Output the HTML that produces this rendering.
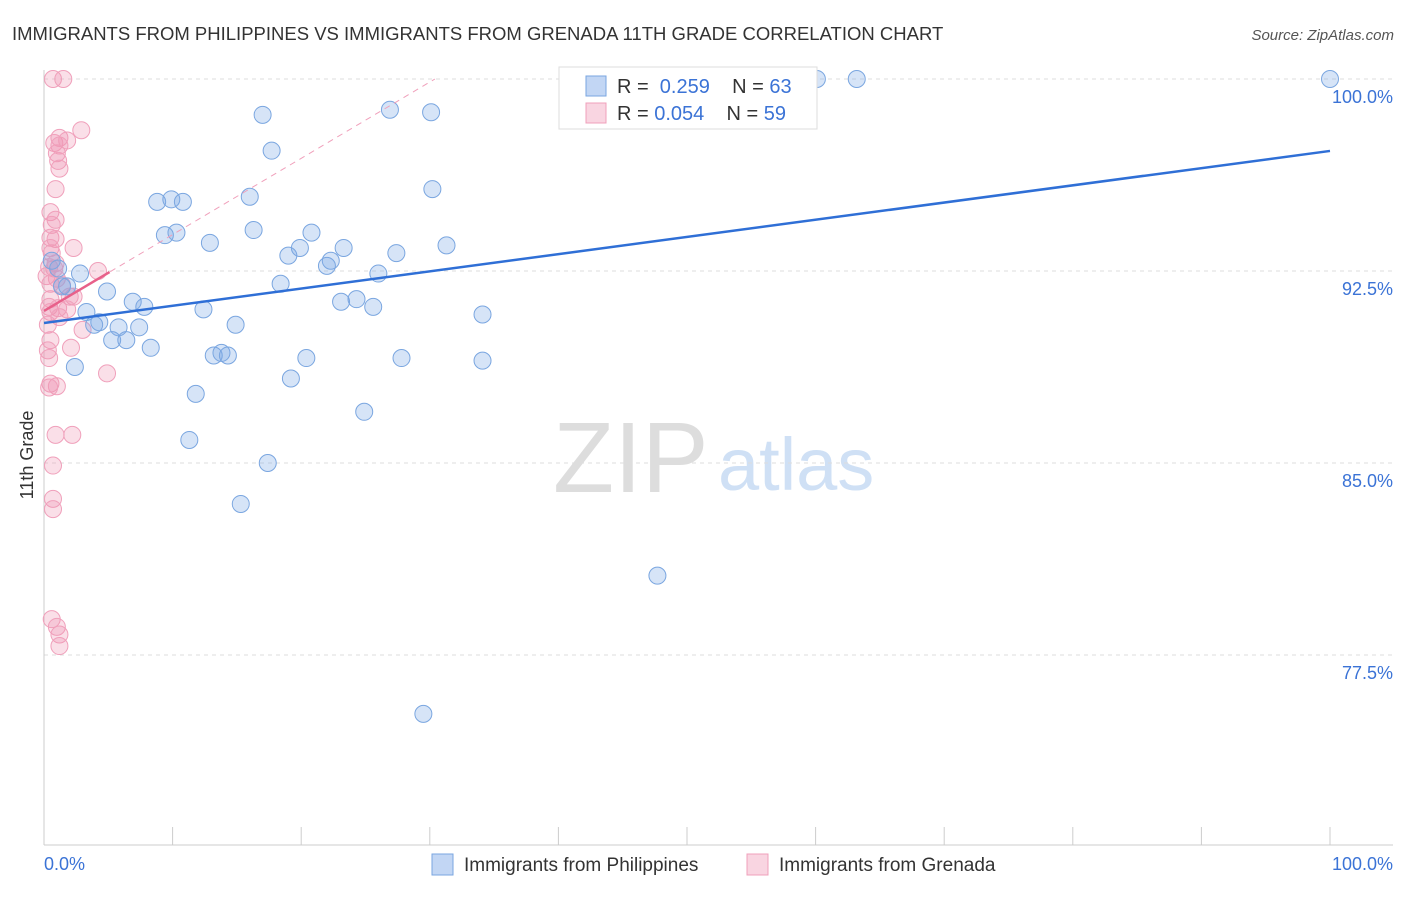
<!DOCTYPE html>
<html><head><meta charset="utf-8"><style>
body{margin:0;background:#fff;font-family:"Liberation Sans",sans-serif;}
svg text{font-family:"Liberation Sans",sans-serif;}
</style></head><body>
<svg id="chart" width="1406" height="892" xmlns="http://www.w3.org/2000/svg">
<text x="12" y="40" font-size="18.5" fill="#333">IMMIGRANTS FROM PHILIPPINES VS IMMIGRANTS FROM GRENADA 11TH GRADE CORRELATION CHART</text>
<text x="1394" y="40" font-size="15" fill="#555" font-style="italic" text-anchor="end">Source: ZipAtlas.com</text>
<text x="33" y="455" font-size="18" fill="#333" text-anchor="middle" transform="rotate(-90 33 455)">11th Grade</text>
<g>
<text x="553" y="492" font-size="100" fill="#ddd" font-family="Liberation Serif,serif">ZIP</text>
<text x="718" y="490" font-size="74" fill="#cfe0f5">atlas</text>
</g>
<g id="grid"></g><g id="axes"></g><g id="pts"></g><g id="lines"></g>
<g>
<rect x="559" y="67" width="258" height="62" fill="#fff" stroke="#ddd"/>
<rect x="586" y="76" width="20" height="20" fill="rgba(120,165,230,0.45)" stroke="#7aa6e0"/>
<rect x="586" y="103" width="20" height="20" fill="rgba(240,150,180,0.4)" stroke="#f0a0bb"/>
<text x="617" y="93" font-size="20" fill="#333">R = <tspan fill="#3b73d6">&#160;0.259</tspan>&#160;&#160;&#160; N = <tspan fill="#3b73d6">63</tspan></text>
<text x="617" y="120" font-size="20" fill="#333">R = <tspan fill="#3b73d6">0.054</tspan>&#160;&#160;&#160; N = <tspan fill="#3b73d6">59</tspan></text>
</g>
<g>
<rect x="432" y="854" width="21" height="21" fill="rgba(120,165,230,0.45)" stroke="#7aa6e0"/>
<text x="464" y="871" font-size="19" fill="#333">Immigrants from Philippines</text>
<rect x="747" y="854" width="21" height="21" fill="rgba(240,150,180,0.4)" stroke="#f0a0bb"/>
<text x="779" y="871" font-size="19" fill="#333">Immigrants from Grenada</text>
</g>
</svg>
<script>
const yTicks=[100,92.5,85,77.5];
const yTickLabels=["100.0%","92.5%","85.0%","77.5%"];
const xTickLabels=["0.0%","100.0%"];
const blueX=[60.1,63.2,100,26.9,17.0,30.1,17.7,30.2,16.0,8.8,9.9,10.8,16.3,20.8,9.4,10.3,12.9,31.3,19.9,23.3,27.4,19.0,22.3,22.0,0.6,1.1,2.8,26.0,18.4,1.8,1.4,4.9,6.9,7.8,23.1,24.3,25.6,12.4,3.3,34.1,4.3,3.9,5.8,7.4,14.9,5.3,6.4,8.3,13.2,13.8,14.3,20.4,27.8,34.1,2.4,19.2,11.8,24.9,11.3,17.4,15.3,47.7,29.5];
const blueY=[100,100,100,98.8,98.6,98.7,97.2,95.7,95.4,95.2,95.3,95.2,94.1,94.0,93.9,94.0,93.6,93.5,93.4,93.4,93.2,93.1,92.9,92.7,92.9,92.6,92.4,92.4,92.0,91.9,91.9,91.7,91.3,91.1,91.3,91.4,91.1,91.0,90.9,90.8,90.5,90.4,90.3,90.3,90.4,89.8,89.8,89.5,89.2,89.3,89.2,89.1,89.1,89.0,88.75,88.3,87.7,87.0,85.9,85.0,83.4,80.6,75.2];
const pinkX=[0.7,1.5,2.9,1.2,0.8,1.8,1.2,1.0,1.1,1.2,0.9,0.5,0.9,0.6,0.5,0.9,2.3,0.5,0.6,0.9,0.4,4.2,0.8,0.2,1.0,0.5,1.4,2.3,2.0,0.5,0.4,1.1,0.5,1.8,1.2,0.3,3.0,0.5,2.1,0.3,0.4,4.9,0.5,1.0,0.4,0.9,2.2,0.7,0.7,0.7,0.6,1.0,1.2,1.2];
const pinkY=[100,100,98.0,97.7,97.5,97.6,97.4,97.1,96.8,96.5,95.7,94.8,94.5,94.3,93.8,93.75,93.4,93.4,93.2,92.8,92.65,92.5,92.6,92.3,92.2,92.0,91.95,91.5,91.5,91.4,91.1,91.05,90.9,91.0,90.7,90.4,90.2,89.8,89.5,89.4,89.1,88.5,88.1,88.0,87.95,86.1,86.1,84.9,83.6,83.2,78.9,78.6,78.3,77.85];
const blueTrend=[90.47,97.19];
const pinkTrend=[90.94,92.46,5.1];
const NS="http://www.w3.org/2000/svg";
const X=v=>44+v*12.86, Y=v=>79+(100-v)*25.6;
function mk(tag,attrs,parent){const e=document.createElementNS(NS,tag);for(const k in attrs)e.setAttribute(k,attrs[k]);document.getElementById(parent).appendChild(e);return e;}
yTicks.forEach((t,i)=>{
 const g=mk('line',{x1:44,x2:1393,y1:Y(t),y2:Y(t),stroke:'#ddd','stroke-dasharray':'4,4'},'grid');
 
 
 const l=mk('text',{x:1393,y:Y(t)+24,'font-size':18,fill:'#3b73d6','text-anchor':'end'},'axes');
 l.textContent=yTickLabels[i];
 
 
});
mk('line',{x1:44,x2:44,y1:70,y2:845,stroke:'#ccc'},'axes');
mk('line',{x1:44,x2:1393,y1:845,y2:845,stroke:'#ccc'},'axes');
for(let i=0;i<=10;i++){const t=mk('line',{x1:X(i*10),x2:X(i*10),y1:827,y2:845,stroke:'#ccc'},'axes');
 
 }
[[0,'start',44],[1,'end',1393]].forEach(([i,a,x])=>{const l=mk('text',{x:x,y:870,'font-size':18,fill:'#3b73d6','text-anchor':a},'axes');l.textContent=xTickLabels[i];
 
 });
pinkX.forEach((v,i)=>{const c=mk('circle',{cx:X(v),cy:Y(pinkY[i]),r:8.5,fill:'rgba(240,150,180,0.3)',stroke:'#f0a0bb','stroke-width':1},'pts');
 
 });
blueX.forEach((v,i)=>{const c=mk('circle',{cx:X(v),cy:Y(blueY[i]),r:8.5,fill:'rgba(120,165,230,0.3)',stroke:'#7aa6e0','stroke-width':1},'pts');
 
 });
const slope=(pinkTrend[1]-pinkTrend[0])/pinkTrend[2];
const xEnd=(100-pinkTrend[0])/slope;
const d=mk('line',{x1:X(0),y1:Y(pinkTrend[0]),x2:X(xEnd),y2:Y(100),stroke:'#f0a0bb','stroke-dasharray':'6,5','stroke-width':1},'lines');


const p=mk('line',{x1:X(0),y1:Y(pinkTrend[0]),x2:X(pinkTrend[2]),y2:Y(pinkTrend[1]),stroke:'#e8608a','stroke-width':2.5},'lines');


const b=mk('line',{x1:X(0),y1:Y(blueTrend[0]),x2:X(100),y2:Y(blueTrend[1]),stroke:'#2f6fd6','stroke-width':2.5},'lines');


</script>
</body></html>
